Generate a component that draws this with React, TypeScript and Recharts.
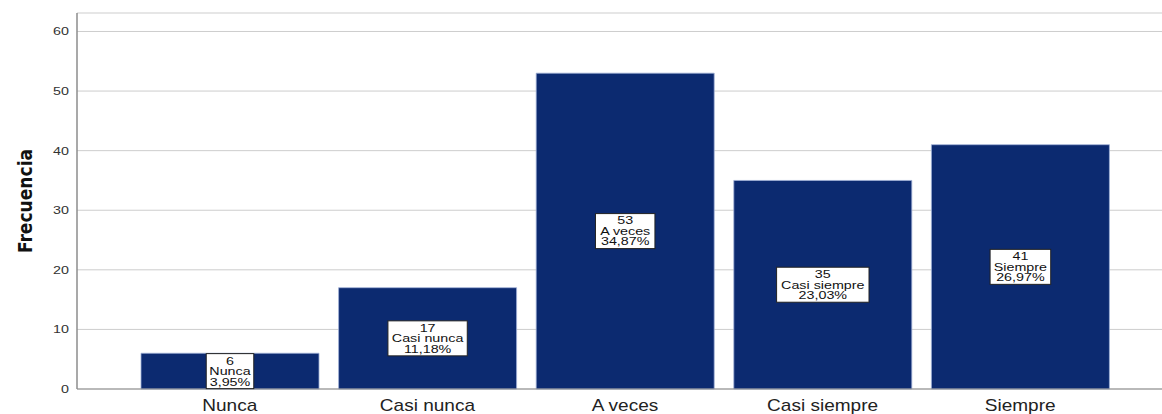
import { BarChart, Bar, XAxis, YAxis, CartesianGrid, LabelList } from 'recharts'

const categories = ['Nunca', 'Casi nunca', 'A veces', 'Casi siempre', 'Siempre']
const counts = [6, 17, 53, 35, 41]
const percents = ['3,95%', '11,18%', '34,87%', '23,03%', '26,97%']
const yTicks = [0, 10, 20, 30, 40, 50, 60]

const data = categories.map((name, i) => ({ name, count: counts[i], pct: percents[i] }))

const FONT = '"Liberation Sans", Arial, sans-serif'
const BAR_COLOR = '#0c2a70'

// rough Arial advance widths, good enough to size the label boxes
function textWidth(s: string, size: number) {
  let w = 0
  for (const ch of s) {
    if ('il,. '.includes(ch)) w += 0.278
    else if ('rtf'.includes(ch)) w += 0.333
    else if ('m%'.includes(ch)) w += 0.86
    else if (ch >= 'A' && ch <= 'Z') w += 0.68
    else w += 0.556
  }
  return w * size
}

const SX = 1.3

function YTick({ x, y, payload }: any) {
  return (
    <g transform={`translate(${x},${y}) scale(${SX},1)`}>
      <text textAnchor="end" dominantBaseline="central" fontSize={11} fill="#333" fontFamily={FONT}>
        {payload.value}
      </text>
    </g>
  )
}

function XTick({ x, y, payload }: any) {
  return (
    <g transform={`translate(${x},${y + 8}) scale(1.12,1)`}>
      <text textAnchor="middle" dominantBaseline="central" fontSize={17} fill="#222" fontFamily={FONT}>
        {payload.value}
      </text>
    </g>
  )
}

function BoxLabel(props: any) {
  const { x, y, width, height, index } = props
  const d = data[index]
  const lines = [String(d.count), d.name, d.pct]
  const fs = 11
  const lh = 10.5
  const w = Math.max(...lines.map((l) => textWidth(l, fs))) * SX + 6
  const h = 35
  const cx = x + width / 2
  const cy = y + height / 2
  return (
    <g>
      <rect x={cx - w / 2} y={cy - h / 2} width={w} height={h} fill="#fff" stroke="#222" strokeWidth={1} />
      {lines.map((l, i) => (
        <g key={i} transform={`translate(${cx},${cy + (i - 1) * lh}) scale(${SX},1)`}>
          <text textAnchor="middle" dominantBaseline="central" fontSize={fs} fill="#111" fontFamily={FONT}>
            {l}
          </text>
        </g>
      ))}
    </g>
  )
}

function YLabel() {
  return (
    <text
      transform="translate(25,201) rotate(-90)"
      textAnchor="middle"
      dominantBaseline="central"
      fontSize={19}
      fontWeight="bold"
      fill="#111"
      fontFamily={'"Liberation Sans Narrow", "DejaVu Sans Condensed", Arial, sans-serif'}
    >
      Frecuencia
    </text>
  )
}

export default function App() {
  return (
    <div style={{ width: 1162, height: 414, background: '#fff' }}>
      <style>{'body{margin:0}'}</style>
      <BarChart
        width={1162}
        height={414}
        data={data}
        margin={{ top: 13, right: 0, bottom: 0, left: 0 }}
        barCategoryGap={10}
      >
        <CartesianGrid vertical={false} stroke="#cdcdcd" />
        <XAxis
          dataKey="name"
          height={25}
          padding={{ left: 54, right: 43 }}
          tickLine={false}
          stroke="#8c8c8c"
          tick={<XTick />}
          interval={0}
        />
        <YAxis
          width={77}
          domain={[0, 63.1]}
          ticks={yTicks}
          tickLine={false}
          stroke="#8c8c8c"
          strokeWidth={1.5}
          tick={<YTick />}
          label={<YLabel />}
        />
        <Bar dataKey="count" fill={BAR_COLOR} stroke="#9fb0d6" strokeWidth={0.8} isAnimationActive={false}>
          <LabelList dataKey="count" content={<BoxLabel />} />
        </Bar>
      </BarChart>
    </div>
  )
}
